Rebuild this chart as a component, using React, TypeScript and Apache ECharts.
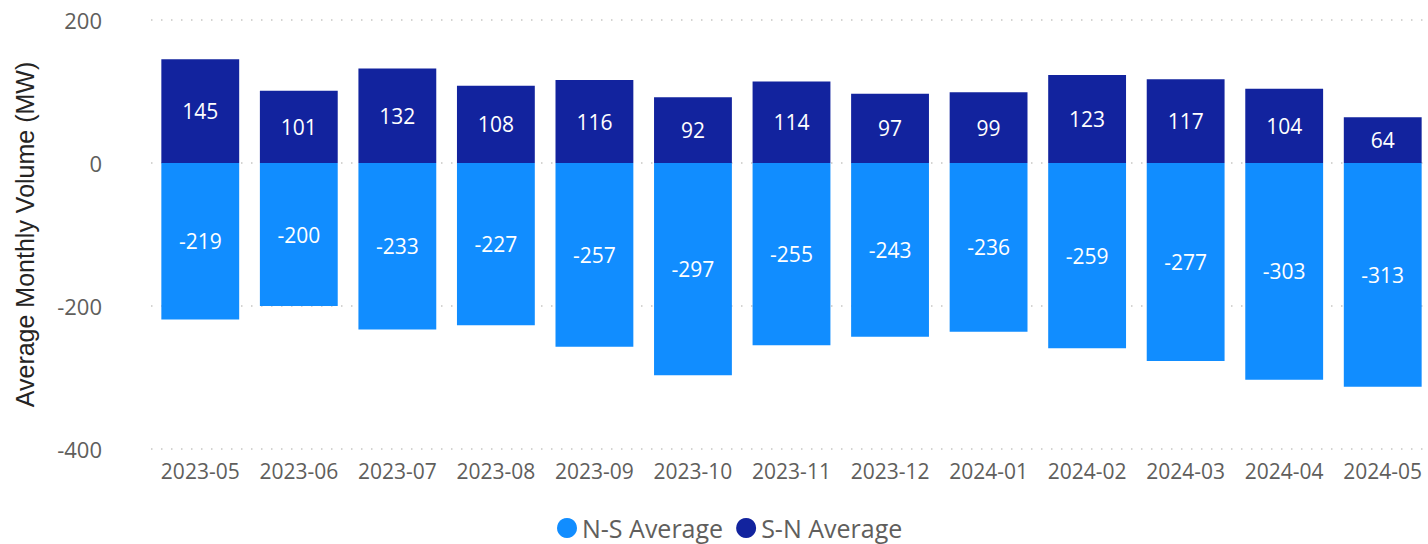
import React, { useEffect, useRef } from "react";
import * as echarts from "echarts";

const categories = ["2023-05","2023-06","2023-07","2023-08","2023-09","2023-10","2023-11","2023-12","2024-01","2024-02","2024-03","2024-04","2024-05"];
const nsAverage = [-219,-200,-233,-227,-257,-297,-255,-243,-236,-259,-277,-303,-313];
const snAverage = [145,101,132,108,116,92,114,97,99,123,117,104,64];
const yTicks = { min: -400, max: 200, interval: 200 };

export default function App() {
  const ref = useRef<HTMLDivElement>(null);
  useEffect(() => {
    const chart = echarts.init(ref.current!, null, { renderer: "svg" });
    const font = "'Open Sans', 'Noto Sans', sans-serif";
    chart.setOption({
      animation: false,
      textStyle: { fontFamily: font },
      grid: { left: 151, top: 20, width: 1281, height: 429, containLabel: false, outerBoundsMode: "none" },
      legend: {
        top: 513,
        left: 557,
        padding: 0,
        itemGap: 13,
        itemWidth: 20,
        itemHeight: 20,
        icon: "circle",
        textStyle: { fontSize: 25, color: "#605E5C", fontFamily: font, lineHeight: 30 },
        data: ["N-S Average", "S-N Average"],
      },
      xAxis: {
        type: "category",
        data: categories,
        axisLine: { show: false },
        axisTick: { show: false },
        axisLabel: { color: "#605E5C", fontSize: 21, margin: 11, interval: 0, fontFamily: font },
      },
      yAxis: {
        type: "value",
        min: yTicks.min,
        max: yTicks.max,
        interval: yTicks.interval,
        name: "Average Monthly Volume (MW)",
        nameLocation: "middle",
        nameGap: 114,
        nameTextStyle: { fontSize: 25, color: "#252423", fontFamily: "'Liberation Sans', Arial, sans-serif" },
        axisLabel: { color: "#605E5C", fontSize: 22, margin: 49, fontFamily: font },
        splitLine: { lineStyle: { color: "#C8C6C4", type: [1.5, 8.5], width: 1.5 } },
      },
      series: [
        {
          name: "N-S Average",
          type: "bar",
          data: nsAverage,
          barWidth: "79%",
          barGap: "-100%",
          itemStyle: { color: "#118DFF" },
          label: { show: true, position: "inside", color: "#fff", fontSize: 21, fontFamily: font },
        },
        {
          name: "S-N Average",
          type: "bar",
          data: snAverage,
          barWidth: "79%",
          itemStyle: { color: "#12239E" },
          label: { show: true, position: "inside", color: "#fff", fontSize: 21, fontFamily: font },
        },
      ],
    });
    return () => chart.dispose();
  }, []);
  return <div ref={ref} style={{ position: "fixed", left: 0, top: 0, width: 1428, height: 544, background: "#fff" }} />;
}
